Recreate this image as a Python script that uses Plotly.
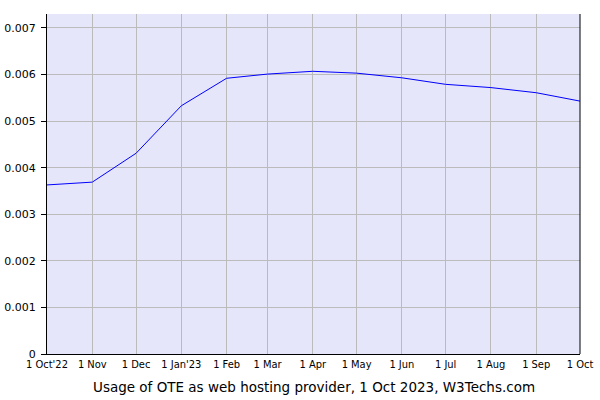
import plotly.graph_objects as go

dates = ["2022-10-01", "2022-11-01", "2022-12-01", "2023-01-01", "2023-02-01", "2023-03-01",
         "2023-04-01", "2023-05-01", "2023-06-01", "2023-07-01", "2023-08-01", "2023-09-01", "2023-10-01"]
usage = [0.00363, 0.00369, 0.00431, 0.00533, 0.00592, 0.00601,
         0.00607, 0.00603, 0.00593, 0.00579, 0.00572, 0.00561, 0.00543]
tick_labels = ["1 Oct'22", "1 Nov", "1 Dec", "1 Jan'23", "1 Feb", "1 Mar", "1 Apr",
               "1 May", "1 Jun", "1 Jul", "1 Aug", "1 Sep", "1 Oct"]
y_ticks = [0, 0.001, 0.002, 0.003, 0.004, 0.005, 0.006, 0.007]
y_labels = ["0", "0.001", "0.002", "0.003", "0.004", "0.005", "0.006", "0.007"]
title_text = "Usage of OTE as web hosting provider, 1 Oct 2023, W3Techs.com"

fig = go.Figure()
fig.add_trace(go.Scatter(x=dates, y=usage, mode="lines",
                         line=dict(color="#0000ff", width=1), hoverinfo="x+y"))

fig.update_layout(
    width=600, height=400,
    margin=dict(l=47, r=20, t=14, b=46, autoexpand=False),
    paper_bgcolor="white",
    plot_bgcolor="#e6e6fa",
    showlegend=False,
    font=dict(family="DejaVu Sans", color="black"),
    xaxis=dict(
        type="date",
        range=["2022-10-01", "2023-10-01"],
        tickvals=dates, ticktext=tick_labels,
        tickfont=dict(family="DejaVu Sans Condensed", size=11, color="black"),
        showgrid=True, gridcolor="#bbbbbb", gridwidth=1,
        showline=True, linecolor="black", linewidth=1, mirror=False,
        ticks="", zeroline=False, fixedrange=True, automargin=False,
    ),
    yaxis=dict(
        range=[0, 0.0073],
        tickvals=y_ticks, ticktext=y_labels,
        tickfont=dict(family="DejaVu Sans", size=11, color="black"),
        showgrid=True, gridcolor="#bbbbbb", gridwidth=1,
        showline=True, linecolor="black", linewidth=1,
        ticks="outside", ticklen=5, tickcolor="black",
        ticklabelstandoff=3,
        zeroline=False, fixedrange=True, automargin=False,
    ),
    annotations=[dict(
        text=title_text, xref="paper", yref="paper", x=0.5, y=0,
        xanchor="center", yanchor="top", yshift=-23, showarrow=False,
        font=dict(family="DejaVu Sans", size=13.5, color="black"),
    )],
    shapes=[dict(type="line", xref="paper", yref="paper", x0=1, x1=1, y0=0, y1=1,
                 line=dict(color="black", width=1))],
)

fig.write_html("out.html", config={"displayModeBar": False},
               post_script="document.body.style.margin='0';")
